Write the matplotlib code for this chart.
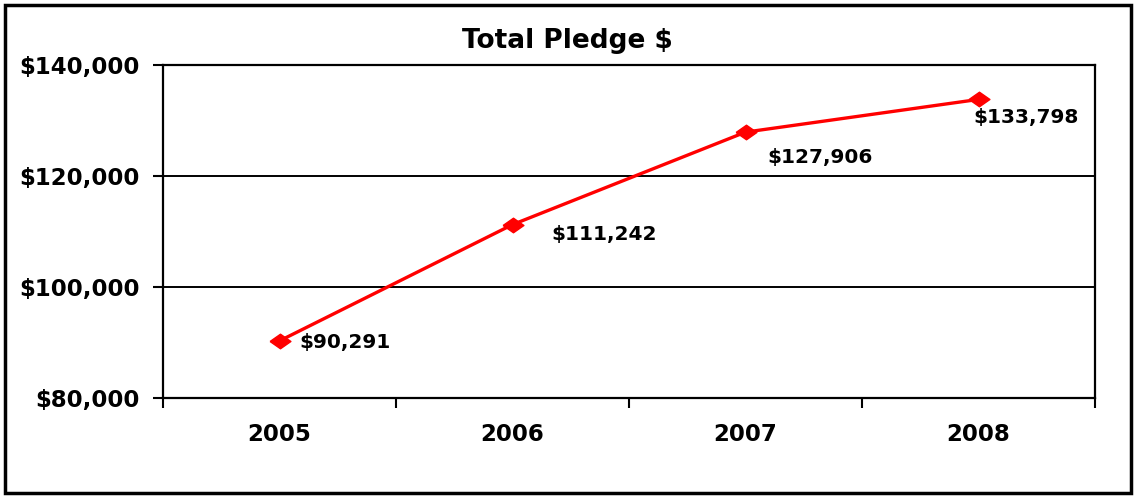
import matplotlib.pyplot as plt
import matplotlib.patches as patches
from matplotlib.ticker import FuncFormatter

# pledge totals per year
years = ['2005', '2006', '2007', '2008']
pledges = [90291, 111242, 127906, 133798]
y_ticks = [80000, 100000, 120000, 140000]
# label offsets (points) for each data label
label_offsets = [(14, -1), (28, -7), (16, -18), (-4, -13)]

plt.rcParams['font.family'] = ['DejaVu Sans']
plt.rcParams['font.weight'] = 'bold'

fig = plt.figure(figsize=(11.34, 4.98), dpi=100)
ax = fig.add_axes([163/1134, 1 - 398/498, (1095-163)/1134, (398-65)/498])

# outer chart border
fig.add_artist(patches.Rectangle((5/1134, 5/498), 1126/1134, 488/498,
                                 transform=fig.transFigure, fill=False,
                                 edgecolor='black', linewidth=2.5))

# wide, flat diamond marker
diamond = [(-1, 0), (0, 0.7), (1, 0), (0, -0.7), (-1, 0)]

x = list(range(len(years)))
ax.plot(x, pledges, color='#ff0000', linewidth=2.4, marker=diamond,
        markersize=15, zorder=5, clip_on=False)

for i, v in enumerate(pledges):
    ax.annotate('${:,}'.format(v), (x[i], v), xytext=label_offsets[i],
                textcoords='offset points', ha='left', va='center',
                fontsize=14.5, fontweight='bold')

ax.set_xlim(-0.5, len(years) - 0.5)
ax.set_ylim(y_ticks[0], y_ticks[-1])
ax.set_yticks(y_ticks)
ax.yaxis.set_major_formatter(FuncFormatter(lambda v, p: '${:,.0f}'.format(v)))
ax.set_xticks([i - 0.5 for i in range(len(years) + 1)])
ax.set_xticklabels([])
ax.set_xticks(x, minor=True)
ax.set_xticklabels(years, minor=True)
ax.tick_params(axis='x', which='minor', length=0, pad=18, labelsize=16.5)
ax.tick_params(axis='x', which='major', length=7, width=1.5, direction='out')
ax.tick_params(axis='y', length=7, width=1.5, direction='out', labelsize=16.5, pad=10)

ax.grid(axis='y', color='black', linewidth=1.4)
ax.set_axisbelow(True)
for s in ax.spines.values():
    s.set_linewidth(1.6)
    s.set_color('black')

fig.text(0.5, 1 - 48/498, 'Total Pledge $', fontsize=19, fontweight='bold',
         ha='center', va='baseline')

fig.savefig('out.png', dpi=100)
